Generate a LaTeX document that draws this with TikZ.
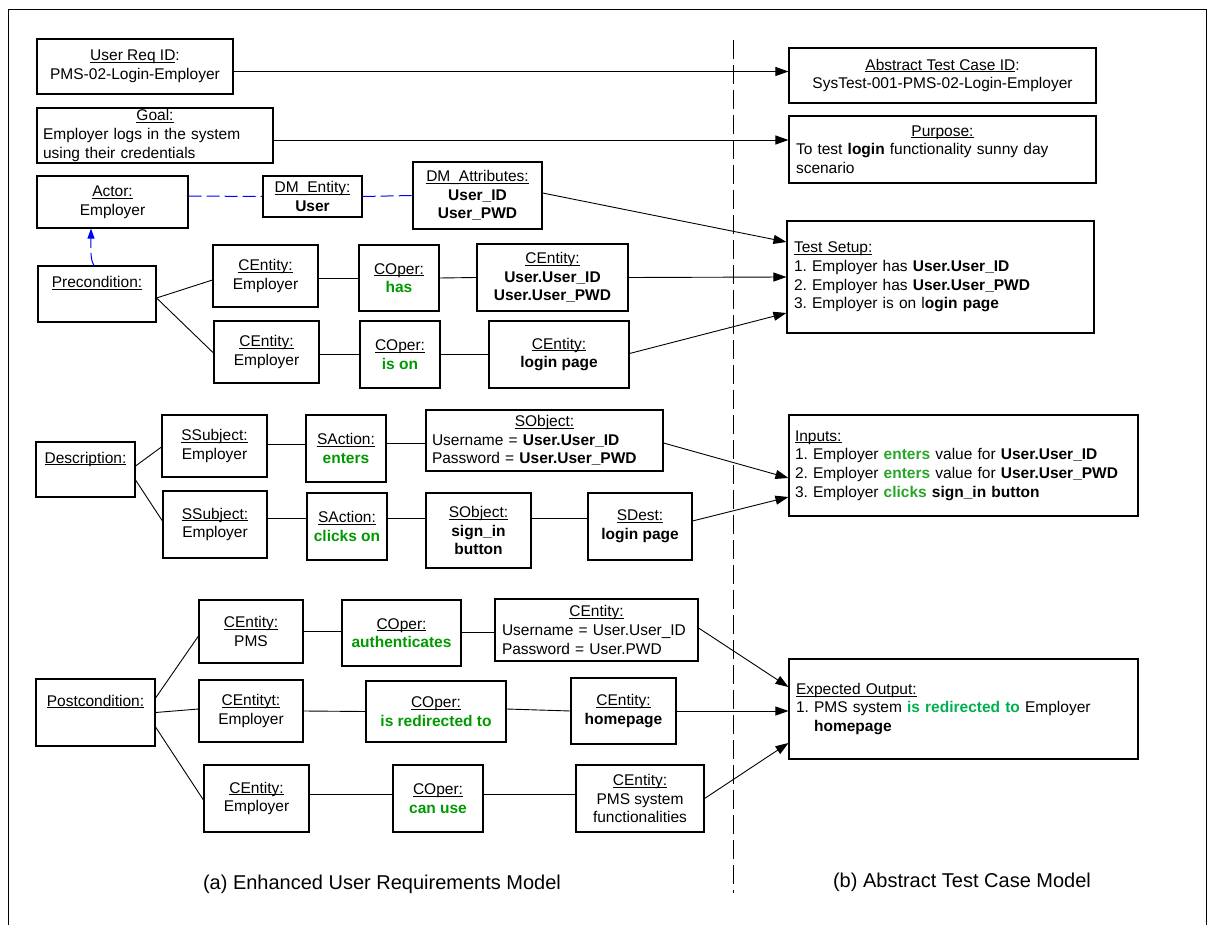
\documentclass[tikz,border=0pt]{standalone}
\usepackage{fontspec}
\setmainfont{Liberation Sans}
\usetikzlibrary{arrows.meta,calc}
\frenchspacing

\definecolor{gdark}{RGB}{0,153,0}
\definecolor{ginp}{RGB}{40,165,40}
\definecolor{gexp}{RGB}{0,176,80}

\newcommand\bodyfont{\fontsize{15.5pt}{18.6pt}\selectfont}
\newcommand\capfont{\fontsize{20pt}{24pt}\selectfont}
\newcommand\hd[1]{\underline{\smash{#1}}\vphantom{#1}}
\newcommand\gop[1]{\textcolor{gdark}{\textbf{#1}}}
\newcommand\gin[1]{\textcolor{ginp}{\textbf{#1}}}
\newcommand\gex[1]{\textcolor{gexp}{\textbf{#1}}}
\newcommand\ctrhead[1]{\makebox[\hsize]{#1}}
% box with corners (x1,y1) and (x2,y2) in pixel units
\newcommand\bx[7][]{\node[box,minimum width={(#5-#3)*1pt},minimum height={(#6-#4)*1pt},#1] (#2) at ({(#3+#5)/2},{(#4+#6)/2}) {#7};}

\tikzset{
  box/.style={draw, line width=1.1pt, inner sep=0pt, font=\bodyfont, align=center},
  conn/.style={line width=0.9pt},
  arr/.style={conn, -{Triangle[length=13pt,width=9pt]}},
  dmlink/.style={draw=blue, line width=1pt, dash pattern=on 13pt off 5pt},
  divider/.style={line width=1pt, dash pattern=on 19pt off 6pt},
}

\begin{document}
\begin{tikzpicture}[x=1pt,y=-1pt]
\useasboundingbox (0,0) rectangle (1207,925);

% outer frame and separator
\draw[line width=1pt] (8,925) -- (8,10) -- (1206,10) -- (1206,925);
\draw[divider] (733,40) -- (733,893);

% ---- enhanced user requirements model ----
\bx{reqid}{37}{39}{233}{94}{\hd{User Req ID}:\\PMS-02-Login-Employer}
\bx[align=left,text width=224pt]{goal}{37}{108}{273}{163}{\ctrhead{\hd{Goal:}}\\Employer logs in the system\\using their credentials}
\bx{actor}{37}{176}{188}{228}{\hd{Actor:}\\Employer}
\bx{dment}{263}{176}{362}{217}{\hd{DM\_Entity:}\\\textbf{User}}
\bx{dmattr}{413}{162}{542}{229}{\hd{DM\_Attributes:}\\\textbf{User\_ID}\\\textbf{User\_PWD}}

\bx{prec}{38}{266}{156}{322}{\hd{Precondition:}\\\strut}
\bx{pe1}{213}{245}{318}{307}{\hd{CEntity:}\\Employer}
\bx{po1}{359}{245}{439}{311}{\hd{COper:}\\\gop{has}}
\bx{pe1b}{477}{244}{628}{311}{\hd{CEntity:}\\\textbf{User.User\_ID}\\\textbf{User.User\_PWD}}
\bx{pe2}{214}{321}{319}{383}{\hd{CEntity:}\\Employer}
\bx{po2}{360}{321}{440}{388}{\hd{COper:}\\\gop{is on}}
\bx{pe2b}{489}{321}{629}{388}{\hd{CEntity:}\\\textbf{login page}}

\bx{desc}{36}{442}{135}{497}{\hd{Description:}\\\strut}
\bx{ss1}{162}{415}{267}{477}{\hd{SSubject:}\\Employer}
\bx{sa1}{306}{415}{386}{482}{\hd{SAction:}\\\gop{enters}}
\bx[align=left,text width=225pt]{so1}{426}{410}{663}{471}{\ctrhead{\hd{SObject:}}\\Username = \textbf{User.User\_ID}\\Password = \textbf{User.User\_PWD}}
\bx{ss2}{163}{491}{267}{558}{\hd{SSubject:}\\Employer}
\bx{sa2}{307}{493}{387}{560}{\hd{SAction:}\\\gop{clicks on}}
\bx{so2}{426}{493}{531}{568}{\hd{SObject:}\\\textbf{sign\_in}\\\textbf{button}}
\bx{sd}{588}{493}{692}{560}{\hd{SDest:}\\\textbf{login page}}

\bx{post}{36}{679}{155}{746}{\hd{Postcondition:}\\\strut}
\bx{c1}{199}{600}{303}{663}{\hd{CEntity:}\\PMS}
\bx{c1o}{342}{600}{461}{666}{\hd{COper:}\\\gop{authenticates}}
\bx[align=left,text width=189pt]{c1b}{495}{599}{698}{661}{\ctrhead{\hd{CEntity:}}\\Username = User.User\_ID\\Password = User.PWD}
\bx{c2}{199}{680}{303}{742}{\hd{CEntityt:}\\Employer}
\bx{c2o}{366}{681}{506}{742}{\hd{COper:}\\\gop{is redirected to}}
\bx{c2b}{571}{678}{676}{744}{\hd{CEntity:}\\\textbf{homepage}}
\bx{c3}{204}{765}{309}{832}{\hd{CEntity:}\\Employer}
\bx{c3o}{393}{765}{483}{832}{\hd{COper:}\\\gop{can use}}
\bx{c3b}{576}{765}{704}{832}{\hd{CEntity:}\\PMS system\\functionalities}

% ---- abstract test case model ----
\bx{atc}{789}{48}{1096}{103}{\hd{Abstract Test Case ID}:\\SysTest-001-PMS-02-Login-Employer}
\bx[align=left,text width=293pt]{purp}{789}{116}{1096}{183}{\ctrhead{\hd{Purpose:}}\\To test \textbf{login} functionality sunny day\\scenario}
\bx[align=left,text width=293pt]{setup}{787}{221}{1094}{333}{\hd{Test Setup:}\\1. Employer has \textbf{User.User\_ID}\\2. Employer has \textbf{User.User\_PWD}\\3. Employer is on l\textbf{ogin page}}
\bx[align=left,text width=337pt]{inputs}{789}{415}{1138}{516}{\hd{Inputs:}\\1. Employer \gin{enters} value for \textbf{User.User\_ID}\\2. Employer \gin{enters} value for \textbf{User.User\_PWD}\\3. Employer \gin{clicks} \textbf{sign\_in button}}
\bx[align=left,text width=335pt]{expout}{789}{659}{1138}{759}{\hd{Expected Output:}\\1. PMS system \gex{is redirected to} Employer\\\phantom{1. }\textbf{homepage}}

% captions
\node[font=\capfont] (capa) at (382,884) {(a) Enhanced User Requirements Model};
\node[font=\capfont] (capb) at (962,882) {(b) Abstract Test Case Model};

% ---- connectors ----
\draw[dmlink] ($(actor.east)+(0,-6)$) -- (dment.west);
\draw[dmlink] (dment.east) -- (dmattr.west);
\draw[dmlink, -{Triangle[length=10pt,width=7pt]}] ($(prec.north)+(-3,0)$) .. controls +(-4,-6) and +(0,20) .. ($(actor.south)+(-21.5,0)$);

\draw[arr] ($(reqid.east)+(0,5)$) -- ($(atc.west)+(0,-4)$);
\draw[arr] ($(goal.east)+(0,4.5)$) -- ($(purp.west)+(0,-9.5)$);
\draw[arr] ($(dmattr.east)+(0,-2.5)$) -- ($(setup.west)+(0,-35)$);

\draw[conn] ($(prec.east)+(0,4)$) -- ($(pe1.west)+(0,4)$);
\draw[conn] ($(prec.east)+(0,4)$) -- ($(pe2.west)+(0,1)$);
\draw[conn] ($(pe1.east)+(0,2)$) -- (po1.west);
\draw[conn] (po1.east) -- (pe1b.west);
\draw[arr] (pe1b.east) -- (setup.west);
\draw[conn] ($(pe2.east)+(0,2)$) -- ($(po2.west)+(0,-0.5)$);
\draw[conn] ($(po2.east)+(0,-0.5)$) -- ($(pe2b.west)+(0,-0.5)$);
\draw[arr] ($(pe2b.east)+(0,-1)$) -- ($(setup.west)+(0,36)$);

\draw[conn] ($(desc.east)+(0,-3.5)$) -- ($(ss1.west)+(0,1)$);
\draw[conn] ($(desc.east)+(0,10.5)$) -- ($(ss2.west)+(0,-3.5)$);
\draw[conn] ($(ss1.east)+(0,-2)$) -- ($(sa1.west)+(0,-4.5)$);
\draw[conn] ($(sa1.east)+(0,-5.5)$) -- ($(so1.west)+(0,2.5)$);
\draw[arr] ($(so1.east)+(0,2.5)$) -- ($(inputs.west)+(0,12.5)$);
\draw[conn] ($(ss2.east)+(0,-6.5)$) -- ($(sa2.west)+(0,-8.5)$);
\draw[conn] ($(sa2.east)+(0,-8.5)$) -- ($(so2.west)+(0,-12.5)$);
\draw[conn] ($(so2.east)+(0,-12.5)$) -- ($(sd.west)+(0,-8.5)$);
\draw[arr] ($(sd.east)+(0,-5.5)$) -- ($(inputs.west)+(0,31.5)$);

\draw[conn] ($(post.east)+(0,-14.5)$) -- ($(c1.west)+(0,4.5)$);
\draw[conn] (post.east) -- ($(c2.west)+(0,-2)$);
\draw[conn] ($(post.east)+(0,14.5)$) -- ($(c3.west)+(0,1.5)$);
\draw[conn] ($(c1.east)+(0,-0.5)$) -- ($(c1o.west)+(0,-2)$);
\draw[conn] ($(c1o.east)+(0,-1)$) -- ($(c1b.west)+(0,2)$);
\draw[arr] ($(c1b.east)+(0,-2)$) -- ($(expout.west)+(0,-22)$);
\draw[conn] (c2.east) -- (c2o.west);
\draw[conn] ($(c2o.east)+(0,-2.5)$) -- (c2b.west);
\draw[arr] (c2b.east) -- ($(expout.west)+(0,2)$);
\draw[conn] ($(c3.east)+(0,-4.5)$) -- ($(c3o.west)+(0,-4.5)$);
\draw[conn] ($(c3o.east)+(0,-4.5)$) -- ($(c3b.west)+(0,-4.5)$);
\draw[arr] (c3b.east) -- ($(expout.west)+(0,34)$);
\end{tikzpicture}
\end{document}
